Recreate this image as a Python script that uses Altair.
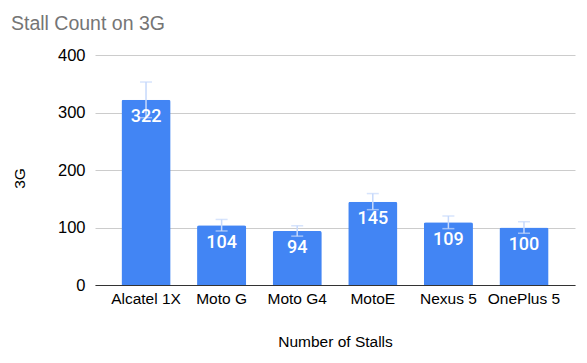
import altair as alt
import pandas as pd

devices = ["Alcatel 1X", "Moto G", "Moto G4", "MotoE", "Nexus 5", "OnePlus 5"]
stalls = [322, 104, 94, 145, 109, 100]
errors = [31, 10, 9, 14, 11, 10]

df = pd.DataFrame({"device": devices, "stalls": stalls, "err": errors})
df["low"] = df["stalls"] - df["err"]
df["high"] = df["stalls"] + df["err"]

x = alt.X("device:N", sort=devices, title="Number of Stalls",
          scale=alt.Scale(paddingInner=0.35, paddingOuter=0.35),
          axis=alt.Axis(labelAngle=0, labelFont="Liberation Sans", labelFontSize=15.5,
                        labelColor="#000", ticks=False, domainColor="#333", domainWidth=1,
                        labelPadding=6, titleFont="Liberation Sans", titleFontSize=15.5,
                        titleFontWeight="normal", titleColor="#000",
                        titleY=61, titleBaseline="alphabetic"))

base = alt.Chart(df)

bars = base.mark_bar(color="#4285F4", cornerRadiusTopLeft=2, cornerRadiusTopRight=2).encode(
    x=x,
    y=alt.Y("stalls:Q", title="3G",
            scale=alt.Scale(domain=[0, 400]),
            axis=alt.Axis(values=[0, 100, 200, 300, 400], domain=False, ticks=False,
                          gridColor="#cccccc", labelFont="Liberation Sans", labelFontSize=16.5,
                          labelColor="#000", labelPadding=10,
                          titleFont="Liberation Sans", titleFontSize=15.5, titleFontWeight="normal",
                          titleColor="#000", titleAngle=-90, titleX=-75.5, titleY=123,
                          titleAlign="center", titleBaseline="middle")),
)

rule = base.mark_rule(color="#c6d9fb", strokeWidth=1.5).encode(
    x=alt.X("device:N", sort=devices), y="low:Q", y2="high:Q")
cap_hi = base.mark_tick(color="#c6d9fb", size=12, thickness=1.5, orient="horizontal").encode(
    x=alt.X("device:N", sort=devices), y="high:Q")
cap_lo = base.mark_tick(color="#c6d9fb", size=12, thickness=1.5, orient="horizontal").encode(
    x=alt.X("device:N", sort=devices), y="low:Q")

labels = base.mark_text(color="white", font="Roboto", fontSize=18, fontWeight=500,
                        baseline="middle", align="center", dy=17.5).encode(
    x=alt.X("device:N", sort=devices), y="stalls:Q", text="stalls:Q")

chart = alt.layer(bars, rule, cap_hi, cap_lo, labels).properties(
    width=480, height=230,
    autosize=alt.AutoSizeParams(type="none"),
    padding={"left": 95, "top": 55, "right": 12, "bottom": 78},
    title=alt.TitleParams("Stall Count on 3G", anchor="start", frame="group",
                          font="Liberation Sans", fontSize=19.5, fontWeight="normal",
                          color="#757575", dx=-84, offset=13),
).configure(background="white").configure_view(stroke=None)

chart.save("out.html", embed_options={"renderer": "svg", "actions": False})
